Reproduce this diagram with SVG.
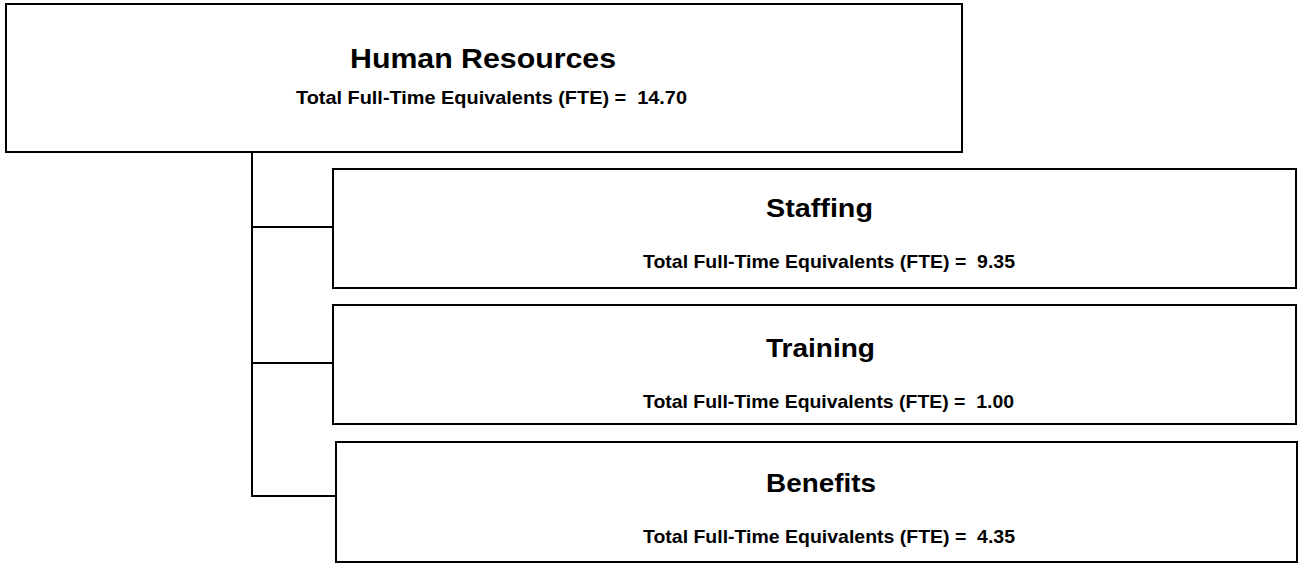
<svg xmlns="http://www.w3.org/2000/svg" width="1298" height="563" viewBox="0 0 1298 563">
<style>
.box{fill:#fff;stroke:#000;stroke-width:2}
.t{font-family:"Liberation Sans",Arial,sans-serif;font-weight:bold;fill:#000}
.title{font-size:26px}
.sub{font-size:19px}
.conn{stroke:#000;stroke-width:2;fill:none}
</style>
<rect width="1298" height="563" fill="#fff"/>
<g id="connectors">
<line class="conn" x1="252" y1="152" x2="252" y2="497"/>
<line class="conn" x1="251" y1="227" x2="333" y2="227"/>
<line class="conn" x1="251" y1="363" x2="333" y2="363"/>
<line class="conn" x1="251" y1="496" x2="336" y2="496"/>
</g>
<g id="hr">
<rect class="box" x="6" y="4" width="956" height="148"/>
<text class="t title" x="350" y="68" font-size="28" style="font-size:28px" textLength="266" lengthAdjust="spacingAndGlyphs">Human Resources</text>
<text class="t sub" x="296" y="104" textLength="391" lengthAdjust="spacingAndGlyphs" xml:space="preserve">Total Full-Time Equivalents (FTE) =  14.70</text>
</g>
<g id="staffing">
<rect class="box" x="333" y="169" width="963" height="119"/>
<text class="t title" x="766" y="217" textLength="107" lengthAdjust="spacingAndGlyphs">Staffing</text>
<text class="t sub" x="643" y="268" textLength="372" lengthAdjust="spacingAndGlyphs" xml:space="preserve">Total Full-Time Equivalents (FTE) =  9.35</text>
</g>
<g id="training">
<rect class="box" x="333" y="305" width="963" height="119"/>
<text class="t title" x="766" y="357" textLength="109" lengthAdjust="spacingAndGlyphs">Training</text>
<text class="t sub" x="643" y="408" textLength="371" lengthAdjust="spacingAndGlyphs" xml:space="preserve">Total Full-Time Equivalents (FTE) =  1.00</text>
</g>
<g id="benefits">
<rect class="box" x="336" y="442" width="961" height="120"/>
<text class="t title" x="766" y="492" textLength="110" lengthAdjust="spacingAndGlyphs">Benefits</text>
<text class="t sub" x="643" y="543" textLength="372" lengthAdjust="spacingAndGlyphs" xml:space="preserve">Total Full-Time Equivalents (FTE) =  4.35</text>
</g>
</svg>
